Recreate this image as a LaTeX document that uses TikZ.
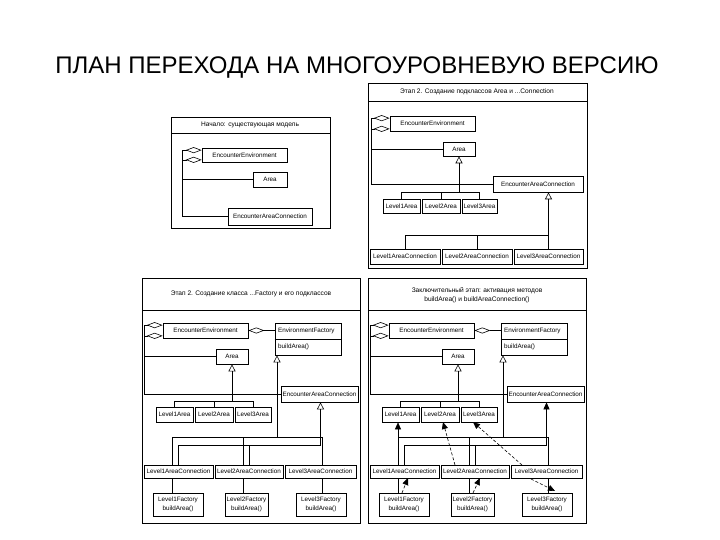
\documentclass[tikz,border=0pt]{standalone}
\usepackage{fontspec}
\setmainfont{Liberation Sans}
\usetikzlibrary{arrows.meta}
\newcommand\lbl{\fontsize{6.3}{9.5}\selectfont}
\newcommand\ttlf{\fontsize{6.6}{9.5}\selectfont}
\newcommand\cbox[6]{\node[cls, minimum width={#4-#2}, minimum height={#5-#3}] (#1) at ({(#2+#4)/2},{(#3+#5)/2}) {#6};}
\tikzset{
  cls/.style={draw, line width=0.7pt, fill=white, inner sep=0pt, font=\lbl, align=center},
  ln/.style={line width=0.6pt},
  frame/.style={draw, line width=0.7pt},
  inh/.style={line width=0.6pt, -{Triangle[open, length=7pt, width=7pt]}},
  dep/.style={line width=0.6pt, -{Triangle[length=7pt, width=6pt]}},
  depd/.style={line width=0.6pt, dash pattern=on 3pt off 2pt, -{Triangle[length=7pt, width=6pt]}},
  agg/.style={line width=0.6pt, {Diamond[open, length=16pt, width=6pt]}-},
  ttl/.style={font=\ttlf, inner sep=0pt, align=center},
}
% common part of stages 3 and 4 (#1 = style of the ...Connection generalisation)
\newcommand\stagefull[1]{%
  \draw[frame] (142,278) rectangle (360,523);
  \draw[ln] (142,310) -- (360,310);
  \cbox{ee}{163}{323}{248}{338}{EncounterEnvironment}
  \cbox{ef}{275}{323}{341}{355}{}
  \draw[ln] (ef.west) -- (ef.east);
  \node[anchor=west, font=\lbl, inner sep=0pt] (eft) at (278,331) {EnvironmentFactory};
  \node[anchor=west, font=\lbl, inner sep=0pt] (efm) at (278,347) {buildArea()};
  \cbox{area}{216}{349}{248}{364}{Area}
  \cbox{eca}{281}{386}{358}{402}{EncounterAreaConnection}
  \cbox{l1a}{156}{407}{193}{422}{Level1Area}
  \cbox{l2a}{195}{407}{233}{422}{Level2Area}
  \cbox{l3a}{235}{407}{271}{422}{Level3Area}
  \cbox{l1c}{144}{465}{213}{478}{Level1AreaConnection}
  \cbox{l2c}{215}{465}{283}{478}{Level2AreaConnection}
  \cbox{l3c}{285}{465}{356}{478}{Level3AreaConnection}
  \cbox{l1f}{153}{493}{203}{516}{Level1Factory\\buildArea()}
  \cbox{l2f}{225}{493}{268}{516}{Level2Factory\\buildArea()}
  \cbox{l3f}{296}{493}{346}{516}{Level3Factory\\buildArea()}
  \coordinate (lx) at (144,0);
  \coordinate (abar) at (0,401);
  \coordinate (b1) at (0,437);
  \coordinate (b2) at (0,445);
  \coordinate (k1) at (172,0);
  \coordinate (k2) at (243,0);
  \coordinate (k3) at (322,0);
  \coordinate (efx) at (277,0);
  \draw[agg] ([yshift=-2.5pt]ee.north west) -| (lx |- eca.west) -- (eca.west);
  \draw[agg] ([yshift=2.5pt]ee.south west) -| (lx |- area.west) -- (area.west);
  \draw[agg] (ee.east) -- (ef.west |- ee.east);
  \draw[inh] (area.south |- abar) -- (area.south);
  \draw[ln] (l1a.north) |- (l3a.north |- abar) -- (l3a.north);
  \draw[ln] (l2a.north) -- (l2a.north |- abar);
  \draw[inh] (efx |- b1) -- (efx |- ef.south);
  \draw[ln] (k1 |- l1c.north) |- (k3 |- b1) -- (k3 |- l3c.north);
  \draw[ln] (k2 |- b1) -- (k2 |- l2c.north);
  \draw[ln] (k1 |- l1c.south) -- (k1 |- l1f.north);
  \draw[ln] (k2 |- l2c.south) -- (k2 |- l2f.north);
  \draw[ln] (k3 |- l3c.south) -- (k3 |- l3f.north);
  \draw[#1] (l3c.north |- b2) -- (l3c.north |- eca.south);
  \draw[ln] (l1c.north) |- (l3c.north |- b2);
  \draw[ln] (l2c.north) -- (l2c.north |- b2);
}
\begin{document}
\begin{tikzpicture}[x=1pt, y=-1pt]
\fill[white] (0,0) rectangle (720,540);
\useasboundingbox (0,0) rectangle (720,540);

\node[font=\fontsize{24}{28}\selectfont, inner sep=0pt] (title) at (357,68) {ПЛАН ПЕРЕХОДА НА МНОГОУРОВНЕВУЮ ВЕРСИЮ};

% ---------- panel 1
\draw[frame] (171,117) rectangle (330,228);
\draw[ln] (171,133) -- (330,133);
\node[ttl] (t1) at (250,125) {Начало: существующая модель};
\cbox{a-ee}{202}{148}{287}{162}{EncounterEnvironment}
\cbox{a-area}{253}{172}{287}{187}{Area}
\cbox{a-eca}{228}{208}{312}{225}{EncounterAreaConnection}
\coordinate (a-lx) at (182,0);
\draw[agg] ([yshift=-2.5pt]a-ee.north west) -| (a-lx |- a-eca.west) -- (a-eca.west);
\draw[agg] ([yshift=2.5pt]a-ee.south west) -| (a-lx |- a-area.west) -- (a-area.west);

% ---------- panel 2
\draw[frame] (368,83) rectangle (587,268);
\draw[ln] (368,101) -- (587,101);
\node[ttl] (t2) at (477,92) {Этап 2. Создание подклассов Area и ...Connection};
\cbox{b-ee}{390}{116}{475}{131}{EncounterEnvironment}
\cbox{b-area}{443}{142}{475}{156}{Area}
\cbox{b-eca}{493}{176}{583}{192}{EncounterAreaConnection}
\cbox{b-l1a}{383}{199}{420}{213}{Level1Area}
\cbox{b-l2a}{422}{199}{460}{213}{Level2Area}
\cbox{b-l3a}{462}{199}{497}{213}{Level3Area}
\cbox{b-l1c}{370}{249}{440}{264}{Level1AreaConnection}
\cbox{b-l2c}{442}{249}{512}{264}{Level2AreaConnection}
\cbox{b-l3c}{514}{249}{583}{264}{Level3AreaConnection}
\coordinate (b-lx) at (371,0);
\coordinate (b-abar) at (0,192);
\coordinate (b-cbar) at (0,235);
\draw[agg] ([yshift=-2.5pt]b-ee.north west) -| (b-lx |- b-eca.west) -- (b-eca.west);
\draw[agg] ([yshift=2.5pt]b-ee.south west) -| (b-lx |- b-area.west) -- (b-area.west);
\draw[inh] (b-area.south |- b-abar) -- (b-area.south);
\draw[ln] (b-l1a.north) |- (b-l3a.north |- b-abar) -- (b-l3a.north);
\draw[ln] (b-l2a.north) -- (b-l2a.north |- b-abar);
\draw[inh] (b-l3c.north |- b-cbar) -- (b-l3c.north |- b-eca.south);
\draw[ln] (b-l1c.north) |- (b-l3c.north |- b-cbar) -- (b-l3c.north);
\draw[ln] (b-l2c.north) -- (b-l2c.north |- b-cbar);

% ---------- panel 3
\begin{scope}[name prefix=c-]
  \stagefull{inh}
  \node[ttl] (t3) at (251,294) {Этап 2. Создание класса ...Factory и его подклассов};
\end{scope}

% ---------- panel 4
\begin{scope}[xshift=226pt, name prefix=d-]
  \stagefull{dep}
  \node[ttl] (t4) at (251,295) {Заключительный этап: активация методов\\buildArea() и buildAreaConnection()};
  \coordinate (s2) at (229,465); \coordinate (e2) at (217,422);
  \coordinate (s3) at (296,465); \coordinate (e3) at (247,422);
  \coordinate (f1) at (176,493); \coordinate (g1) at (182,478);
  \coordinate (f2) at (247,493); \coordinate (g2) at (254,478);
  \coordinate (f3) at (305,479); \coordinate (g3) at (329,491);
  \draw[dep] (k1 |- b1) -- (k1 |- l1a.south);
  \draw[depd] (s2) -- (e2);
  \draw[depd] (s3) -- (e3);
  \draw[depd] (f1) -- (g1);
  \draw[depd] (f2) -- (g2);
  \draw[depd] (f3) -- (g3);
\end{scope}
\end{tikzpicture}
\end{document}
